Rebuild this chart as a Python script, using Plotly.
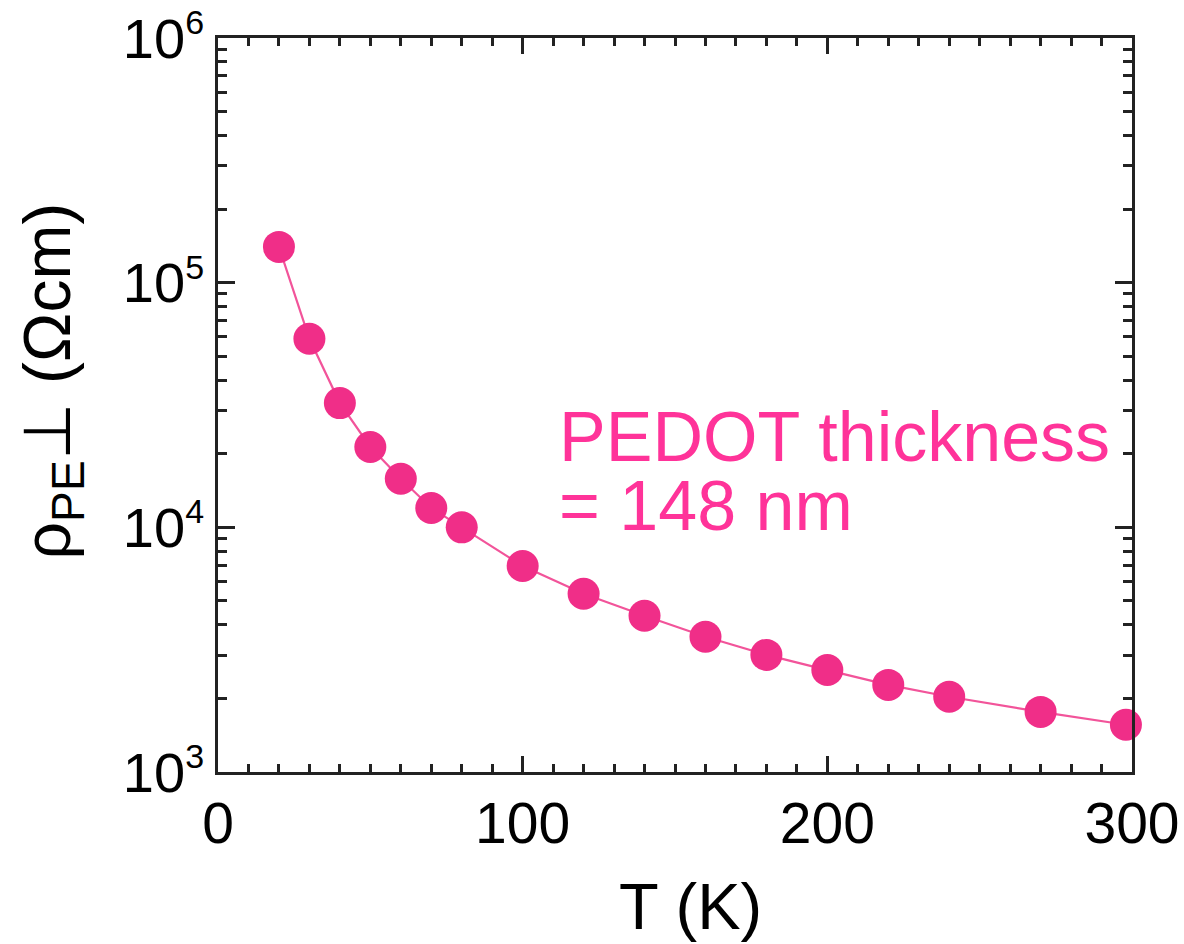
import plotly.graph_objects as go

T_K = [20, 30, 40, 50, 60, 70, 80, 100, 120, 140, 160, 180, 200, 220, 240, 270, 298]
rho = [1.40e5, 5.9e4, 3.22e4, 2.13e4, 1.58e4, 1.20e4, 1.00e4, 6.95e3, 5.35e3,
       4.35e3, 3.57e3, 3.01e3, 2.61e3, 2.27e3, 2.03e3, 1.76e3, 1.56e3]

x_ticks = [0, 100, 200, 300]
y_ticks = [1e3, 1e4, 1e5, 1e6]
y_exponents = ["3", "4", "5", "6"]
y_ticktext = ["10<sup><span style='font-size:34px'>%s</span></sup>" % e for e in y_exponents]

FONT = "Liberation Sans, Arial, Helvetica, sans-serif"
PINK = "#F02E88"

fig = go.Figure()
fig.add_trace(go.Scatter(
    x=T_K, y=rho, mode="lines+markers",
    line=dict(color="#F2549A", width=2.2),
    marker=dict(color=PINK, size=32, line=dict(width=0)),
    cliponaxis=False,
    showlegend=False,
))

# in-plot label
fig.add_annotation(
    x=0.371, y=0.457, xref="paper", yref="paper",
    text="PEDOT thickness", showarrow=False,
    xanchor="left", yanchor="middle", align="left",
    font=dict(family=FONT, size=70, color="#FF3399"),
)
fig.add_annotation(
    x=0.371, y=0.362, xref="paper", yref="paper",
    text="= 148 nm", showarrow=False,
    xanchor="left", yanchor="middle", align="left",
    font=dict(family=FONT, size=70, color="#FF3399"),
)

# axis titles
fig.add_annotation(
    x=0.5175, y=-0.183, xref="paper", yref="paper",
    text="T (K)", showarrow=False, xanchor="center", yanchor="middle",
    font=dict(family=FONT, size=65, color="black"),
)
fig.add_annotation(
    x=-0.182, y=0.533, xref="paper", yref="paper",
    text="ρ<sub>PE</sub>⊥ (Ωcm)", showarrow=False, textangle=-90,
    xanchor="center", yanchor="middle",
    font=dict(family=FONT, size=66, color="black"),
)

axis_common = dict(
    showline=True, linecolor="#222", linewidth=2.5, mirror="allticks",
    ticks="inside", tickcolor="#222", tickwidth=2.5,
    showgrid=False, zeroline=False, automargin=False,
)

fig.update_xaxes(
    range=[0, 300], tickvals=x_ticks, ticklen=16,
    tickfont=dict(family=FONT, size=57, color="black"),
    minor=dict(dtick=10, ticks="inside", ticklen=8, tickcolor="#222", tickwidth=2.5, showgrid=False),
    **axis_common,
)
fig.update_yaxes(
    type="log", range=[3, 6], tickvals=y_ticks, ticktext=y_ticktext, ticklen=17,
    tickfont=dict(family=FONT, size=56, color="black"),
    minor=dict(dtick="D1", ticks="inside", ticklen=9, tickcolor="#222", tickwidth=2.5, showgrid=False),
    **axis_common,
)

fig.update_layout(
    width=1184, height=944,
    margin=dict(l=218, r=52, t=38, b=172),
    plot_bgcolor="white", paper_bgcolor="white",
)

fig.write_html("out.html")
